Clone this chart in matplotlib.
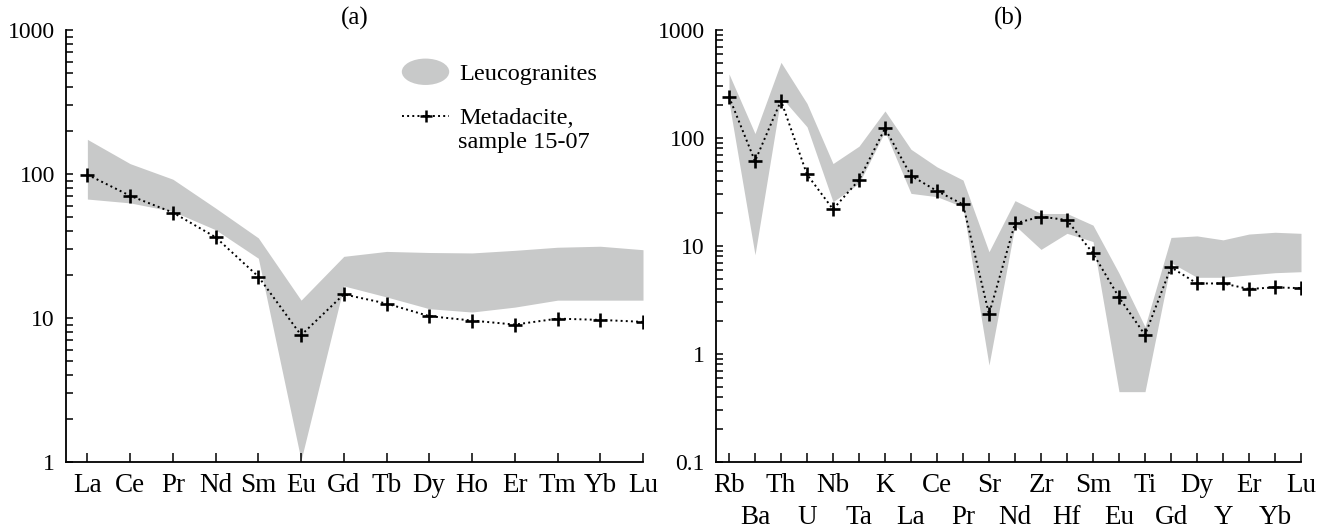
import numpy as np
import matplotlib.pyplot as plt
from matplotlib.patches import Patch, Ellipse
from matplotlib.lines import Line2D
from matplotlib.legend_handler import HandlerPatch
from matplotlib.ticker import FixedLocator, LogLocator, NullFormatter, FuncFormatter

plt.rcParams['font.family'] = ['Liberation Serif', 'DejaVu Serif']

# ---------------------------------------------------------------------------
# Datos (a): REE normalizados
# ---------------------------------------------------------------------------
ree = ["La", "Ce", "Pr", "Nd", "Sm", "Eu", "Gd", "Tb", "Dy", "Ho", "Er", "Tm", "Yb", "Lu"]
ree_leuco_max = [174, 118, 92, 58, 36, 13.3, 26.8, 29, 28.5, 28.3, 29.5, 31, 31.5, 29.8]
ree_leuco_min = [67, 63, 55, 41, 26, 1.03, 16.7, 14, 11.6, 11, 11.9, 13.3, 13.3, 13.3]
ree_meta = [99, 70.6, 54, 36.4, 19.4, 7.6, 14.6, 12.6, 10.3, 9.6, 9.0, 9.9, 9.7, 9.4]

# ---------------------------------------------------------------------------
# Datos (b): multielementos
# ---------------------------------------------------------------------------
spider = ["Rb", "Ba", "Th", "U", "Nb", "Ta", "K", "La", "Ce", "Pr", "Sr", "Nd",
          "Zr", "Hf", "Sm", "Eu", "Ti", "Gd", "Dy", "Y", "Er", "Yb", "Lu"]
sp_leuco_max = [392, 110, 502, 209, 58, 84, 178, 78.6, 54, 40.8, 8.85, 26.3,
                20, 20, 15.6, 5.6, 1.79, 12, 12.4, 11.4, 12.9, 13.4, 13.1]
sp_leuco_min = [215, 8.3, 240, 127, 25.7, 38, 115, 30.7, 28.6, 23, 0.79, 15.5,
                9.3, 13.1, 11, 0.448, 0.448, 7.0, 5.13, 5.13, 5.4, 5.66, 5.78]
sp_meta = [241, 61, 222, 46, 21.9, 40.8, 123, 44.8, 32.3, 24.3, 2.34, 16.2,
           18.7, 17.4, 8.55, 3.35, 1.5, 6.35, 4.5, 4.5, 4.0, 4.14, 4.07]

GRIS = "#c8c9c9"
FS_Y = 17      # etiquetas del eje y
FS_X = 19.5    # etiquetas de elementos
FS_LEG = 17.5


def fmt_y(v, pos):
    return "%g" % v


def estilo_ejes(ax, ymin):
    ax.set_yscale("log")
    ax.set_ylim(ymin, 1000)
    for s in ["top", "right"]:
        ax.spines[s].set_visible(False)
    for s in ["left", "bottom"]:
        ax.spines[s].set_linewidth(1.3)
    ax.yaxis.set_major_locator(LogLocator(base=10))
    ax.yaxis.set_minor_locator(LogLocator(base=10, subs=np.arange(2, 10)))
    ax.yaxis.set_major_formatter(FuncFormatter(fmt_y))
    ax.yaxis.set_minor_formatter(NullFormatter())
    ax.tick_params(axis="y", which="both", direction="in", length=5, width=1.1,
                   pad=8, labelsize=FS_Y)
    ax.tick_params(axis="x", which="both", direction="in", length=6.5, width=1.1,
                   labelsize=FS_X)


def dibujar(ax, x, lo, hi, meta):
    ax.fill_between(x, lo, hi, color=GRIS, lw=0, zorder=1)
    ax.plot(x, meta, color="black", ls=":", lw=1.4, marker="+", ms=10, mew=1.9,
            zorder=3)


def make_ellipse(legend, orig_handle, xdescent, ydescent, width, height, fontsize):
    return Ellipse(xy=(0.5 * width - xdescent, 0.5 * height - ydescent),
                   width=width, height=height * 1.55)


fig = plt.figure(figsize=(13.28, 5.29), dpi=100)
ax1 = fig.add_axes([66 / 1328, 67 / 529, 577 / 1328, 432 / 529])
ax2 = fig.add_axes([716 / 1328, 67 / 529, 585 / 1328, 432 / 529])

# Panel (a)
xa = np.arange(len(ree))
dibujar(ax1, xa, ree_leuco_min, ree_leuco_max, ree_meta)
estilo_ejes(ax1, 1)
ax1.set_xlim(-0.5, len(ree) - 1)
ax1.set_xticks(xa)
ax1.set_xticklabels(ree)
ax1.tick_params(axis="x", pad=8)
ax1.set_title("(a)", fontsize=18, pad=1)

h_leuco = Patch(facecolor=GRIS, edgecolor="none")
h_meta = Line2D([], [], color="black", ls=":", lw=1.4, marker="+", ms=9, mew=1.8)
ax1.legend([h_leuco, h_meta], ["Leucogranites", "Metadacite,"],
           handler_map={Patch: HandlerPatch(patch_func=make_ellipse)},
           loc="upper left", bbox_to_anchor=(0.582, 0.923), frameon=False,
           fontsize=FS_LEG, handlelength=1.95, handletextpad=0.4, labelspacing=0.9,
           borderpad=0, borderaxespad=0)
ax1.text(0.679, 0.740, "sample 15-07", transform=ax1.transAxes, fontsize=FS_LEG,
         va="center", ha="left")

# Panel (b)
xb = np.arange(len(spider))
dibujar(ax2, xb, sp_leuco_min, sp_leuco_max, sp_meta)
estilo_ejes(ax2, 0.1)
ax2.set_xlim(-0.5, len(spider) - 1)
ax2.xaxis.set_major_locator(FixedLocator(xb[::2]))
ax2.xaxis.set_minor_locator(FixedLocator(xb[1::2]))
ax2.set_xticklabels(spider[::2])
ax2.set_xticklabels(spider[1::2], minor=True)
ax2.tick_params(axis="x", which="major", pad=8)
ax2.tick_params(axis="x", which="minor", pad=31, labelsize=FS_X)
ax2.set_title("(b)", fontsize=18, pad=1)

fig.savefig("out.png", dpi=100)
